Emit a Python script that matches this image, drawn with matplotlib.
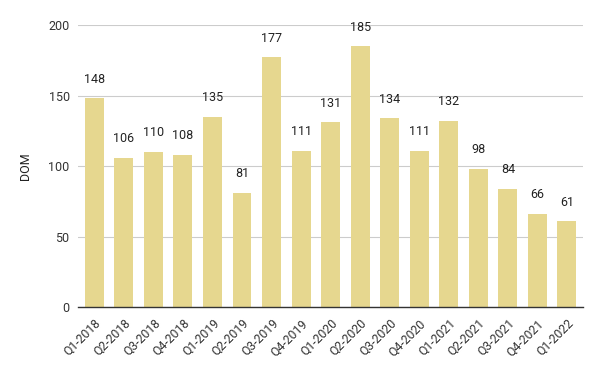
import matplotlib
matplotlib.use("Agg")
import matplotlib.pyplot as plt

categories = ["Q1-2018", "Q2-2018", "Q3-2018", "Q4-2018", "Q1-2019", "Q2-2019",
              "Q3-2019", "Q4-2019", "Q1-2020", "Q2-2020", "Q3-2020", "Q4-2020",
              "Q1-2021", "Q2-2021", "Q3-2021", "Q4-2021", "Q1-2022"]
dom = [148, 106, 110, 108, 135, 81, 177, 111, 131, 185, 134, 111, 132, 98, 84, 66, 61]
yticks = [0, 50, 100, 150, 200]

plt.rcParams['font.family'] = ['Roboto', 'DejaVu Sans']

fig = plt.figure(figsize=(6, 3.71), dpi=100)
ax = fig.add_axes([0.13, 0.1725, 0.842, 0.76])

x = range(len(categories))
bars = ax.bar(x, dom, width=0.64, color="#E6D78F", zorder=2)
for xi, v in zip(x, dom):
    ax.annotate(str(v), (xi, v), xytext=(0, 9), textcoords="offset points",
                ha="center", va="bottom", fontsize=9, color="#222222")

ax.set_xlim(-0.55, len(categories) - 0.45)
ax.set_ylim(0, 200)
ax.set_yticks(yticks)
ax.set_yticklabels([str(t) for t in yticks], fontsize=9, color="#333333")
ax.set_xticks(list(x))
ax.set_xticklabels(categories, rotation=45, ha="right", rotation_mode="anchor",
                   fontsize=8.8, color="#333333")
ax.tick_params(axis="y", length=0, pad=6)
ax.tick_params(axis="x", length=0, pad=7)
ax.grid(axis="y", color="#CCCCCC", linewidth=0.8, zorder=0)
for s in ["top", "right", "left"]:
    ax.spines[s].set_visible(False)
ax.spines["bottom"].set_color("#333333")
ax.spines["bottom"].set_linewidth(1)
ax.set_ylabel("DOM", fontsize=9, color="#222222", labelpad=12)

fig.savefig("out.png", dpi=100)
